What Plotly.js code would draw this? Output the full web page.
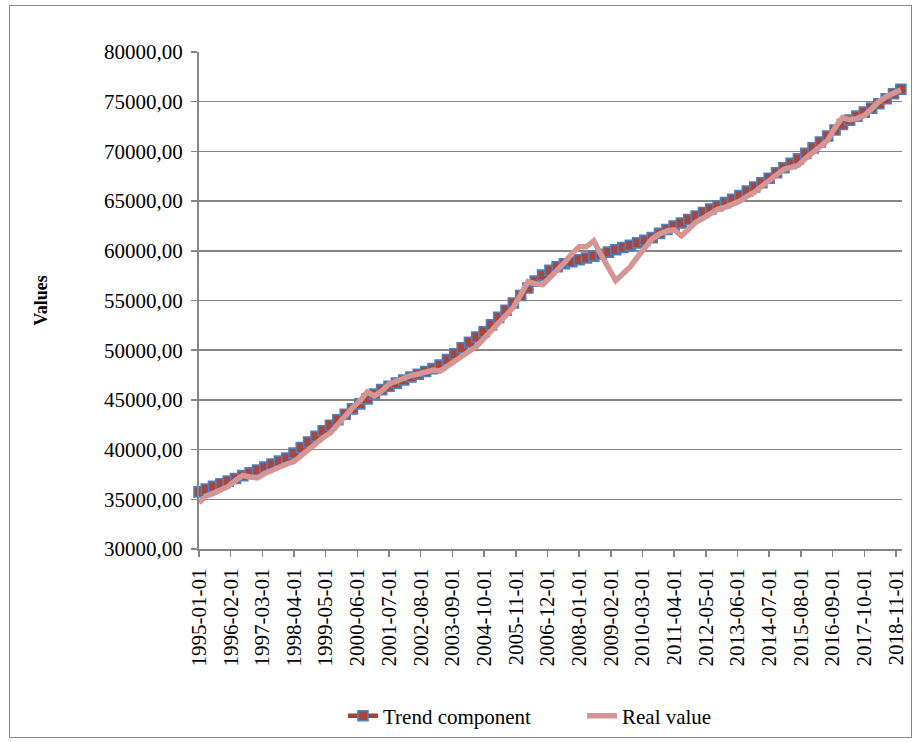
<!DOCTYPE html>
<html>
<head>
<meta charset="utf-8">
<script src="https://cdn.plot.ly/plotly-3.0.1.min.js"></script>
<style>
  html, body { margin: 0; padding: 0; background: #ffffff; }
  #wrap { position: relative; width: 921px; height: 742px; }
  #chart { position: absolute; left: 0; top: 0; width: 921px; height: 742px; }
  #frame { position: absolute; left: 9px; top: 5px; width: 901px; height: 731px; border: 1px solid #8a8a8a; pointer-events: none; }
</style>
</head>
<body>
<div id="wrap">
  <div id="chart"></div>
  <div id="frame"></div>
</div>
<script>
// Quarterly observations, 1995-01-01 .. 2019-01-01
const startYear = 1995;
const nQuarters = 97;
const dates = [];
for (let i = 0; i < nQuarters; i++) {
  const y = startYear + Math.floor(i / 4);
  const m = (i % 4) * 3 + 1;
  dates.push(y + '-' + String(m).padStart(2, '0') + '-01');
}

const trendComponent = [
  35750, 36030, 36300, 36560, 36830, 37100, 37380, 37660, 37950, 38240,
  38540, 38840, 39150, 39650, 40210, 40770, 41330, 41890, 42450, 43000,
  43560, 44100, 44600, 45100, 45580, 46030, 46370, 46690, 47000, 47300,
  47580, 47860, 48150, 48500, 49050, 49650, 50250, 50800, 51330, 51850,
  52550, 53300, 54020, 54750, 55500, 56250, 56950, 57550, 58050, 58400,
  58700, 58900, 59100, 59280, 59460, 59650, 59870, 60100, 60330, 60560,
  60800, 61050, 61330, 61750, 62150, 62500, 62800, 63150, 63500, 63850,
  64200, 64530, 64850, 65170, 65550, 66000, 66420, 66850, 67300, 67850,
  68350, 68800, 69250, 69800, 70350, 70950, 71550, 72150, 72700, 73150,
  73550, 73950, 74350, 74800, 75300, 75800, 76250
];

const realValue = [
  34650, 35350, 35600, 36000, 36300, 36900, 37400, 37250, 37150, 37600,
  37950, 38300, 38550, 38800, 39400, 40100, 40700, 41200, 41700, 42600,
  43400, 44200, 44900, 45800, 45400, 45900, 46600, 46900, 47200, 47450,
  47600, 47800, 48000, 47900, 48400, 49000, 49500, 49950, 50400, 51200,
  52000, 52800, 53500, 54300, 55600, 56900, 56700, 56600, 57300, 58000,
  58800, 59700, 60400, 60400, 61000, 59600, 58200, 57000, 57700, 58400,
  59400, 60400, 61200, 61700, 62000, 62100, 61500, 62200, 62900, 63300,
  63800, 64200, 64400, 64700, 65000, 65500, 65900, 66500, 67100, 67700,
  68200, 68400, 68600, 69300, 69900, 70500, 71100, 72400, 73400, 73200,
  73300, 73600, 74300, 75000, 75500, 75900, 76200
];

const tickLabels = [
  '1995-01-01', '1996-02-01', '1997-03-01', '1998-04-01', '1999-05-01',
  '2000-06-01', '2001-07-01', '2002-08-01', '2003-09-01', '2004-10-01',
  '2005-11-01', '2006-12-01', '2008-01-01', '2009-02-01', '2010-03-01',
  '2011-04-01', '2012-05-01', '2013-06-01', '2014-07-01', '2015-08-01',
  '2016-09-01', '2017-10-01', '2018-11-01'
];

const seriesNames = ['Trend component', 'Real value'];

const FONT = 'Liberation Serif';

const traces = [
  {
    x: dates, y: trendComponent, name: seriesNames[0],
    type: 'scatter', mode: 'lines+markers', cliponaxis: false,
    line: { color: '#A0413D', width: 4.5 },
    marker: { symbol: 'square', size: 10, color: '#A5463F', line: { color: '#4F81BD', width: 1.6 } }
  },
  {
    x: dates, y: realValue, name: seriesNames[1],
    type: 'scatter', mode: 'lines', cliponaxis: false,
    line: { color: '#D69593', width: 5.5 }
  }
];

const layout = {
  width: 921, height: 742,
  margin: { l: 199, r: 19, t: 52, b: 193, autoexpand: false },
  paper_bgcolor: '#ffffff', plot_bgcolor: '#ffffff',
  separators: ',.',
  font: { family: FONT, size: 21, color: '#000000' },
  showlegend: true,
  legend: {
    orientation: 'h',
    xref: 'container', yref: 'container',
    x: 0.3724, xanchor: 'left', y: 0.035, yanchor: 'middle',
    font: { family: FONT, size: 21, color: '#000000' },
    entrywidth: 194, entrywidthmode: 'pixels',
    bgcolor: 'rgba(0,0,0,0)'
  },
  xaxis: {
    type: 'date',
    range: ['1995-01-01', '2019-01-15'],
    tickmode: 'array', tickvals: tickLabels, ticktext: tickLabels,
    tickangle: -90,
    tickfont: { family: FONT, size: 21, color: '#000000' },
    ticks: 'outside', ticklen: 6, tickcolor: '#868686', tickwidth: 1.5,
    ticklabelstandoff: 3,
    showgrid: false, zeroline: false,
    showline: true, linecolor: '#868686', linewidth: 2
  },
  yaxis: {
    range: [30000, 80000], dtick: 5000, tick0: 30000,
    tickformat: '.2f',
    tickfont: { family: FONT, size: 21, color: '#000000' },
    ticks: 'outside', ticklen: 6, tickcolor: '#868686', tickwidth: 1.5,
    ticklabelstandoff: 4,
    showgrid: true, gridcolor: '#868686', gridwidth: 1.5,
    zeroline: false,
    showline: true, linecolor: '#868686', linewidth: 2,
    title: { text: '<b>Values</b>', font: { family: FONT, size: 18, color: '#000000' }, standoff: 52 }
  }
};

Plotly.newPlot('chart', traces, layout, { displayModeBar: false, staticPlot: true });
</script>
</body>
</html>
